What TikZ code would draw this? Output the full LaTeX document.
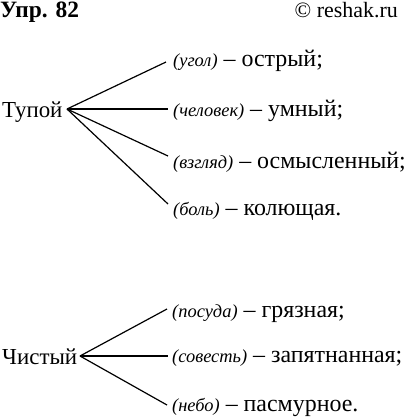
\documentclass[tikz,border=0pt]{standalone}
\usepackage{fontspec}
\setmainfont{Liberation Serif}
\newcommand{\ital}[1]{{\fontsize{18.5}{20}\selectfont\itshape #1}}
\begin{document}
\begin{tikzpicture}[x=1bp,y=-1bp,
  txt/.style={inner sep=0pt,anchor=base west,font=\fontsize{23}{25}\selectfont},
  lbl/.style={inner sep=0pt,anchor=base west,font=\fontsize{24}{26}\selectfont},
  conn/.style={line width=1.2bp,black}]
\useasboundingbox (0,0) rectangle (405,418);
\node[txt,font=\fontsize{23.5}{25}\selectfont\bfseries] (title) at (0,17.5) {Упр. 82};
\node[txt,anchor=base east,font=\fontsize{22}{24}\selectfont] (site) at (398,17.5) {© reshak.ru};
% Tupoy
\node[txt] (tup) at (2,117) {Тупой};
\coordinate (ts) at (67,109);
\node[lbl] (l1) at (173,66.5) {\ital{(угол)} – острый;};
\node[lbl] (l2) at (173,116) {\ital{(человек)} – умный;};
\node[lbl] (l3) at (173,168.5) {\ital{(взгляд)} – осмысленный;};
\node[lbl] (l4) at (173,215.5) {\ital{(боль)} – колющая.};
\coordinate (e1) at (166,62);
\coordinate (e2) at (168,109);
\coordinate (e3) at (168,156);
\coordinate (e4) at (168,204);
\foreach \e in {e1,e2,e3,e4} \draw[conn] (ts) -- (\e);
% Chistyy
\node[txt] (chi) at (2,364) {Чистый};
\coordinate (cs) at (80,356);
\node[lbl] (m1) at (172,317) {\ital{(посуда)} – грязная;};
\node[lbl] (m2) at (172,362) {\ital{(совесть)} – запятнанная;};
\node[lbl] (m3) at (172,411) {\ital{(небо)} – пасмурное.};
\coordinate (f1) at (167,309);
\coordinate (f2) at (168,356);
\coordinate (f3) at (167,405);
\foreach \e in {f1,f2,f3} \draw[conn] (cs) -- (\e);
\end{tikzpicture}
\end{document}
